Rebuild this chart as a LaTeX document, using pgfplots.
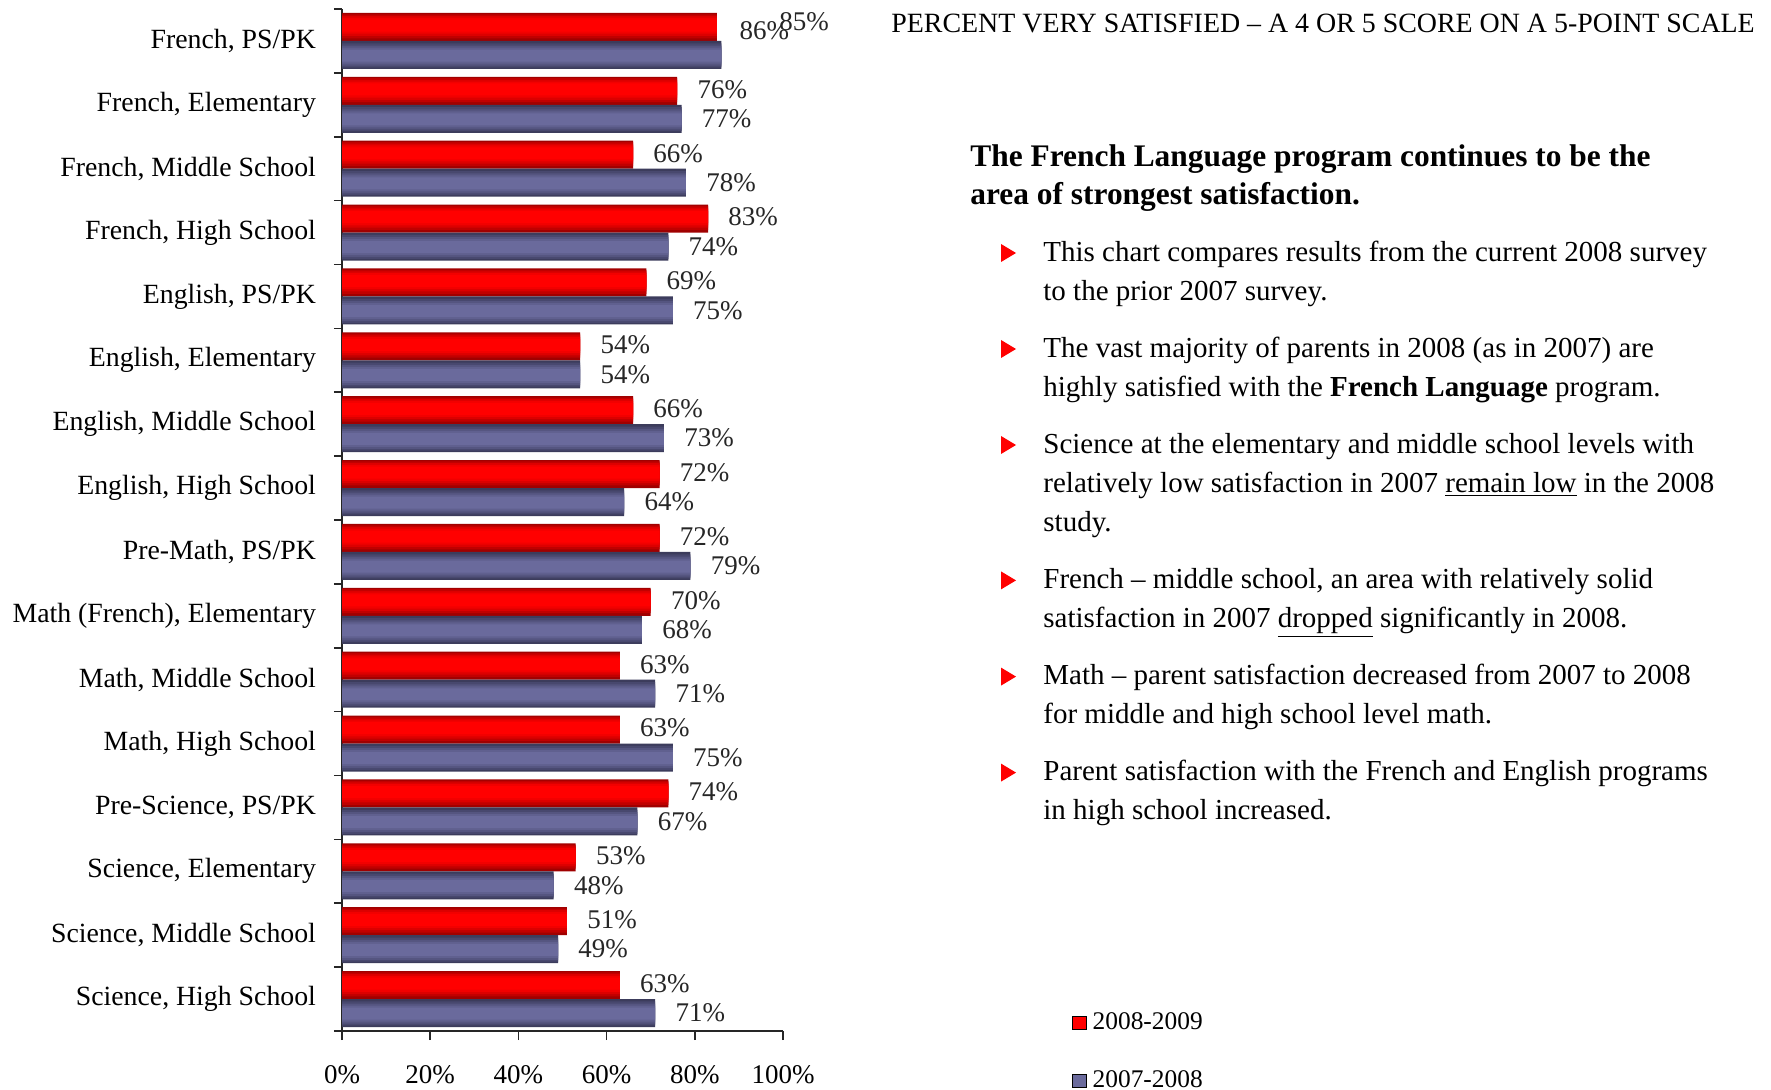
\documentclass[border=0pt]{standalone}
\usepackage{fontspec}
\setmainfont{Liberation Serif}
\usepackage{pgfplots}
\pgfplotsset{compat=1.18}
\usepackage{pgfplotstable}

\definecolor{ra}{HTML}{A00000}
\definecolor{rb}{HTML}{C00000}
\definecolor{rc}{HTML}{DC0000}
\definecolor{rd}{HTML}{F20000}
\definecolor{re}{HTML}{FF0000}
\definecolor{ba}{HTML}{3C3C5C}
\definecolor{bb}{HTML}{48486E}
\definecolor{bc}{HTML}{555580}
\definecolor{bd}{HTML}{60608F}
\definecolor{be}{HTML}{6A6A9C}
\definecolor{tri}{HTML}{FF0000}

% y = 15 - row index (French, PS/PK at the top)
\pgfplotstableread{
y val dx dy
15 85 21 2
14 76 0 0
13 66 0 0
12 83 0 0
11 69 0 0
10 54 0 0
9 66 0 0
8 72 0 0
7 72 0 0
6 70 0 0
5 63 0 0
4 63 0 0
3 74 0 0
2 53 0 0
1 51 0 0
0 63 0 0
}\newdata
\pgfplotstableread{
y val dx dy
15 86 -1 12
14 77 0 0
13 78 0 0
12 74 0 0
11 75 0 0
10 54 0 0
9 73 0 0
8 64 0 0
7 79 0 0
6 68 0 0
5 71 0 0
4 75 0 0
3 67 0 0
2 48 0 0
1 49 0 0
0 71 0 0
}\olddata

\newcommand{\lab}{\fontsize{13.5}{16}\selectfont}
\newcommand{\cat}{\fontsize{13.9}{16}\selectfont}
\newcommand{\body}{\fontsize{14.5}{17}\selectfont}
\newcommand{\layer}[4]{\addplot[forget plot, draw=none, fill=#1, bar width=#2, bar shift=#3] table[x=val, y=y] {#4};}

\begin{document}
\begin{tikzpicture}
\path[use as bounding box] (0,0) rectangle (885.5pt,-545pt);
\begin{axis}[
  at={(171pt,-515.5pt)}, anchor=south west,
  scale only axis, width=220.5pt, height=511pt,
  xmin=0, xmax=100, ymin=-0.5, ymax=15.5,
  xbar, bar width=14pt,
  axis x line*=bottom, axis y line*=left,
  axis line style={-, line width=0.8pt, black!85},
  tick align=outside,
  major tick length=4.5pt, minor tick length=4pt,
  tick style={line width=0.8pt, black!85},
  xtick={0,20,...,100},
  xticklabel={\pgfmathprintnumber{\tick}\%},
  ytick={0,...,15},
  minor ytick={-0.5,0.5,...,15.5},
  major y tick style={draw=none},
  yticklabels={{Science, High School},{Science, Middle School},{Science, Elementary},{Pre-Science, PS/PK},{Math, High School},{Math, Middle School},{Math (French), Elementary},{Pre-Math, PS/PK},{English, High School},{English, Middle School},{English, Elementary},{English, PS/PK},{French, High School},{French, Middle School},{French, Elementary},{French, PS/PK}},
  yticklabel style={font=\cat, xshift=-5pt},
  xticklabel style={font=\lab, yshift=-9pt},
  /pgf/number format/assume math mode=true,
  point meta=x,
  visualization depends on={\thisrow{dx} \as \dx},
  visualization depends on={\thisrow{dy} \as \dy},
  every node near coord/.append style={font=\lab, text=black!85, anchor=west, inner sep=0pt, xshift={(10+\dx)*1pt}, yshift={\dy*1pt}},
  legend image code/.code={\fill[#1] (0pt,-3.4pt) rectangle (6.8pt,3.4pt);},
  legend cell align=left,
  legend style={at={(1.655,0.022)}, anchor=north west, draw=none, fill=none, font=\fontsize{12.7}{15}\selectfont, row sep=15pt, inner sep=0pt, nodes={inner xsep=3pt}},
]
\addlegendimage{fill=re}
\addlegendentry{2008-2009}
\addlegendimage{fill=be}
\addlegendentry{2007-2008}
% 2008-2009 bars, layered for the shading
\layer{ra}{14pt}{7pt}{\newdata}
\layer{rb}{12pt}{7.3pt}{\newdata}
\layer{rc}{10pt}{7.5pt}{\newdata}
\layer{rd}{8pt}{7.6pt}{\newdata}
\addplot[forget plot, draw=none, fill=re, bar width=6pt, bar shift=7.7pt,
  nodes near coords={\pgfmathprintnumber{\pgfplotspointmeta}\%}] table[x=val, y=y] {\newdata};
% 2007-2008 bars
\layer{ba}{14pt}{-7pt}{\olddata}
\layer{bb}{12pt}{-7.2pt}{\olddata}
\layer{bc}{10pt}{-7.3pt}{\olddata}
\layer{bd}{8pt}{-7.3pt}{\olddata}
\addplot[forget plot, draw=none, fill=be, bar width=6pt, bar shift=-7.3pt,
  nodes near coords={\pgfmathprintnumber{\pgfplotspointmeta}\%},
  every node near coord/.append style={yshift=0.3pt}] table[x=val, y=y] {\olddata};
\end{axis}

\node[anchor=mid west, inner sep=0pt, font=\fontsize{13.95}{16}\selectfont] at (445.5pt,-13.8pt) {PERCENT VERY SATISFIED – A 4 OR 5 SCORE ON A 5-POINT SCALE};

\node[anchor=mid west, inner sep=0pt, font=\bfseries\fontsize{15.7}{19}\selectfont] at (485pt,-80.8pt) {The French Language program continues to be the};
\node[anchor=mid west, inner sep=0pt, font=\bfseries\fontsize{15.7}{19}\selectfont] at (485pt,-99.8pt) {area of strongest satisfaction.};

\foreach \yy in {-126.5,-174.5,-222.5,-290.2,-338.3,-386.3}
  \fill[tri] (500.5pt,\yy pt+4.5pt) -- (500.5pt,\yy pt-4.5pt) -- (508pt,\yy pt) -- cycle;

\begin{scope}[every node/.style={anchor=mid west, inner sep=0pt, font=\body}]
\node at (521.5pt,-128.3pt) {This chart compares results from the current 2008 survey};
\node at (521.5pt,-147.8pt) {to the prior 2007 survey.};
\node at (521.5pt,-176.3pt) {The vast majority of parents in 2008 (as in 2007) are};
\node at (521.5pt,-195.8pt) {highly satisfied with the \textbf{French Language} program.};
\node at (521.5pt,-224.3pt) {Science at the elementary and middle school levels with};
\node at (521.5pt,-243.8pt) {relatively low satisfaction in 2007 \underline{remain low} in the 2008};
\node at (521.5pt,-263.3pt) {study.};
\node at (521.5pt,-291.8pt) {French – middle school, an area with relatively solid};
\node at (521.5pt,-311.3pt) {satisfaction in 2007 \underline{dropped} significantly in 2008.};
\node at (521.5pt,-339.8pt) {Math – parent satisfaction decreased from 2007 to 2008};
\node at (521.5pt,-359.3pt) {for middle and high school level math.};
\node at (521.5pt,-387.8pt) {Parent satisfaction with the French and English programs};
\node at (521.5pt,-407.3pt) {in high school increased.};
\end{scope}
\end{tikzpicture}
\end{document}
